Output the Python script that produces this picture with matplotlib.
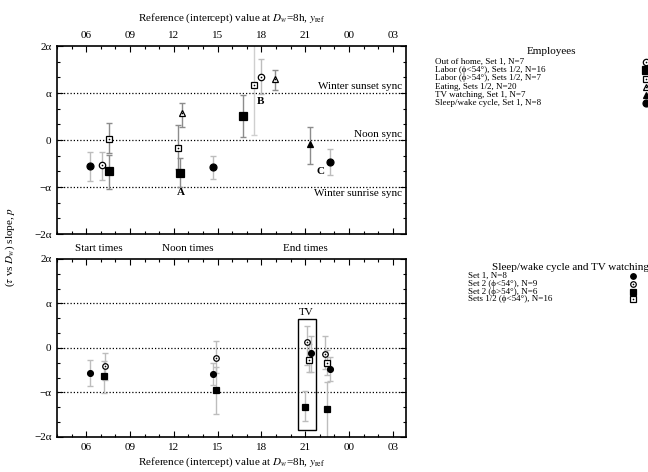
import numpy as np
import matplotlib
matplotlib.use("Agg")
import matplotlib.pyplot as plt
import matplotlib.transforms as mtransforms
from matplotlib.patches import Rectangle
from matplotlib.ticker import MultipleLocator, FixedLocator

plt.rcParams["font.family"] = ["Liberation Serif", "DejaVu Serif"]
plt.rcParams["mathtext.fontset"] = "stix"
plt.rcParams["font.size"] = 8

# ── Data (hours; 24 = 00, 27 = 03; slopes in units of alpha) ────────────────
hour_ticks = [6, 9, 12, 15, 18, 21, 24, 27]
hour_labels = ["06", "09", "12", "15", "18", "21", "00", "03"]
slope_ticks = [-2, -1, 0, 1, 2]
slope_labels = ["\u22122\u03b1", "\u2212\u03b1", "0", "\u03b1", "2\u03b1"]

# Employees panel
out_home_x = [7.09, 17.95]
out_home_y = [-0.54, 1.35]
out_home_lo = [-0.85, 0.97]
out_home_hi = [-0.26, 1.72]

labor_lt_x = [7.57, 12.43, 16.74]
labor_lt_y = [-0.65, -0.70, 0.51]
labor_lt_lo = [-1.05, -1.00, 0.07]
labor_lt_hi = [-0.32, -0.38, 0.95]

labor_gt_x = [7.53, 12.29, 17.49]
labor_gt_y = [0.02, -0.16, 1.16]
labor_gt_lo = [-0.28, -0.62, 0.10]
labor_gt_hi = [0.36, 0.32, 2.60]

eating_x = [12.59, 18.93]
eating_y = [0.57, 1.30]
eating_lo = [0.28, 1.06]
eating_hi = [0.78, 1.50]

tv_x = [21.34]
tv_y = [-0.09]
tv_lo = [-0.50]
tv_hi = [0.28]

sleep_x = [6.23, 14.69, 22.69]
sleep_y = [-0.55, -0.57, -0.46]
sleep_lo = [-0.87, -0.82, -0.74]
sleep_hi = [-0.25, -0.33, -0.19]

# Sleep/wake cycle and TV watching panel
set1_x = [6.25, 14.69, 21.36, 22.69]
set1_y = [-0.56, -0.58, -0.11, -0.47]
set1_lo = [-0.86, -0.83, -0.54, -0.75]
set1_hi = [-0.26, -0.33, 0.26, -0.20]

set2lt_x = [7.30, 14.87, 21.09, 22.38]
set2lt_y = [-0.41, -0.22, 0.14, -0.13]
set2lt_lo = [-0.71, -0.57, -0.39, -0.47]
set2lt_hi = [-0.11, 0.16, 0.49, 0.27]

set2gt_x = [7.21, 14.87, 20.95, 22.52]
set2gt_y = [-0.63, -0.95, -1.33, -1.37]
set2gt_lo = [-1.02, -1.48, -1.65, -2.30]
set2gt_hi = [-0.30, -0.43, -0.97, -0.77]

sets12_x = [21.25, 22.52]
sets12_y = [-0.26, -0.34]
sets12_lo = [-0.55, -0.60]
sets12_hi = [0.10, -0.05]

# ── Figure ──────────────────────────────────────────────────────────────────
fig = plt.figure(figsize=(6.48, 4.72), dpi=100)
ax_top = fig.add_axes([0.088, 0.5042, 0.5386, 0.3983])
ax_bot = fig.add_axes([0.088, 0.0742, 0.5386, 0.3771])

DARK_ERR = "#8c8c8c"
LIGHT_ERR = "#bdbdbd"
KEY_FS = 6.5


def series(ax, x, y, lo, hi, marker, ms, filled, dot=False, ecolor=DARK_ERR):
    x = np.asarray(x)
    y = np.asarray(y)
    yerr = [y - np.asarray(lo), np.asarray(hi) - y]
    ax.errorbar(x, y, yerr=yerr, fmt="none", ecolor=ecolor, elinewidth=1.0,
                capsize=2.3, capthick=1.0, zorder=2)
    ax.plot(x, y, linestyle="none", marker=marker, ms=ms,
            mfc="black" if filled else "white", mec="black", mew=0.9, zorder=3)
    if dot:
        ax.plot(x, y, linestyle="none", marker="o", ms=1.2, mfc="black",
                mec="black", mew=0, zorder=4)


def style_axes(ax, top_labels):
    ax.set_xlim(4, 27.9)
    ax.set_ylim(-2, 2)
    ax.xaxis.set_major_locator(FixedLocator(hour_ticks))
    ax.xaxis.set_minor_locator(MultipleLocator(1))
    ax.yaxis.set_major_locator(FixedLocator(slope_ticks))
    ax.yaxis.set_minor_locator(MultipleLocator(1 / 3))
    ax.set_yticklabels(slope_labels)
    ax.set_xticklabels(hour_labels)
    ax.tick_params(which="both", direction="in", top=True, right=True,
                   labeltop=top_labels, labelbottom=not top_labels,
                   labelsize=8, width=0.8)
    ax.tick_params(which="major", length=4.5, pad=4)
    ax.tick_params(which="minor", length=2.2)
    for sp in ax.spines.values():
        sp.set_linewidth(1.2)
    for lvl in (-1, 0, 1):
        ax.axhline(lvl, color="black", lw=0.9, ls=(0, (1, 1.6)), zorder=1)
    ax.set_xlabel("Reference (intercept) value at $D_w$=8h, $y_{\\mathrm{ref}}$",
                  fontsize=8, labelpad=7.5 if top_labels else 3)
    if top_labels:
        ax.xaxis.set_label_position("top")


style_axes(ax_top, True)
style_axes(ax_bot, False)

# Top panel: employees
series(ax_top, sleep_x, sleep_y, sleep_lo, sleep_hi, "o", 5.0, True, ecolor=LIGHT_ERR)
series(ax_top, out_home_x, out_home_y, out_home_lo, out_home_hi, "o", 4.6, False, dot=True, ecolor=LIGHT_ERR)
series(ax_top, labor_gt_x[:2], labor_gt_y[:2], labor_gt_lo[:2], labor_gt_hi[:2], "s", 4.6, False, dot=True)
series(ax_top, labor_gt_x[2:], labor_gt_y[2:], labor_gt_lo[2:], labor_gt_hi[2:], "s", 4.6, False, dot=True, ecolor="#cfcfcf")
series(ax_top, labor_lt_x, labor_lt_y, labor_lt_lo, labor_lt_hi, "s", 5.3, True)
series(ax_top, eating_x, eating_y, eating_lo, eating_hi, "^", 4.8, False, dot=True)
series(ax_top, tv_x, tv_y, tv_lo, tv_hi, "^", 4.2, True)

ax_top.text(27.6, 1.13, "Winter sunset sync", ha="right", va="center", fontsize=8)
ax_top.text(27.6, 0.11, "Noon sync", ha="right", va="center", fontsize=8)
ax_top.text(27.6, -1.13, "Winter sunrise sync", ha="right", va="center", fontsize=8)
ax_top.text(12.46, -1.11, "A", ha="center", va="center", fontsize=8, fontweight="bold")
ax_top.text(17.96, 0.81, "B", ha="center", va="center", fontsize=8, fontweight="bold")
ax_top.text(22.02, -0.66, "C", ha="center", va="center", fontsize=8, fontweight="bold")

# Bottom panel: sleep/wake cycle and TV watching
series(ax_bot, set1_x, set1_y, set1_lo, set1_hi, "o", 4.2, True, ecolor=LIGHT_ERR)
series(ax_bot, set2lt_x, set2lt_y, set2lt_lo, set2lt_hi, "o", 4.0, False, dot=True, ecolor=LIGHT_ERR)
series(ax_bot, set2gt_x, set2gt_y, set2gt_lo, set2gt_hi, "s", 4.4, True, ecolor=LIGHT_ERR)
series(ax_bot, sets12_x, sets12_y, sets12_lo, sets12_hi, "s", 4.4, False, dot=True, ecolor=LIGHT_ERR)

ax_bot.add_patch(Rectangle((20.49, -1.84), 1.25, 2.5, fill=False, lw=1.0,
                           ec="black", zorder=5))
ax_bot.text(21.06, 0.79, "TV", ha="center", va="center", fontsize=8)

# Period labels between panels
btrans = mtransforms.blended_transform_factory(ax_bot.transData, fig.transFigure)
for xh, lab in [(6.89, "Start times"), (12.94, "Noon times"), (20.99, "End times")]:
    fig.text(xh, 1 - 248 / 472, lab, transform=btrans, ha="center", va="center",
             fontsize=8)

fig.text(10 / 648, 1 - 247 / 472, "($\\tau$ vs $D_w$) slope, $p$", rotation=90,
         ha="center", va="center", fontsize=8)

# ── Keys (pixel-layout axes) ────────────────────────────────────────────────
kax = fig.add_axes([0, 0, 1, 1], zorder=-1)
kax.set_xlim(0, 648)
kax.set_ylim(472, 0)
kax.axis("off")

emp_labels = ["Out of home, Set 1, N=7",
              "Labor (\u03d5<54\u00b0), Sets 1/2, N=16",
              "Labor (\u03d5>54\u00b0), Sets 1/2, N=7",
              "Eating, Sets 1/2, N=20",
              "TV watching, Set 1, N=7",
              "Sleep/wake cycle, Set 1, N=8"]
emp_styles = [("o", 4.6, False, True), ("s", 5.3, True, False), ("s", 4.6, False, True),
              ("^", 4.8, False, True), ("^", 4.2, True, False), ("o", 5.0, True, False)]
kax.text(551, 51.5, "Employees", ha="center", va="center", fontsize=8)
for i, (lab, st) in enumerate(zip(emp_labels, emp_styles)):
    yy = 62.3 + i * 8.1
    kax.text(435, yy, lab, ha="left", va="center", fontsize=KEY_FS)
    m, ms, filled, dot = st
    kax.plot([646], [yy], ls="none", marker=m, ms=ms, mfc="black" if filled else "white",
             mec="black", mew=0.9, clip_on=False)
    if dot:
        kax.plot([646], [yy], ls="none", marker="o", ms=1.2, mfc="black", mew=0)

tv_labels = ["Set 1, N=8", "Set 2 (\u03d5<54\u00b0), N=9",
             "Set 2 (\u03d5>54\u00b0), N=6", "Sets 1/2 (\u03d5<54\u00b0), N=16"]
tv_styles = [("o", 4.0, True, False), ("o", 4.0, False, True),
             ("s", 4.2, True, False), ("s", 4.4, False, True)]
kax.text(571, 267, "Sleep/wake cycle and TV watching", ha="center", va="center", fontsize=8)
for i, (lab, st) in enumerate(zip(tv_labels, tv_styles)):
    yy = 276 + i * 7.8
    kax.text(468, yy, lab, ha="left", va="center", fontsize=KEY_FS)
    m, ms, filled, dot = st
    kax.plot([633], [yy], ls="none", marker=m, ms=ms, mfc="black" if filled else "white",
             mec="black", mew=0.9)
    if dot:
        kax.plot([633], [yy], ls="none", marker="o", ms=1.2, mfc="black", mew=0)

fig.savefig("out.png", dpi=100)
